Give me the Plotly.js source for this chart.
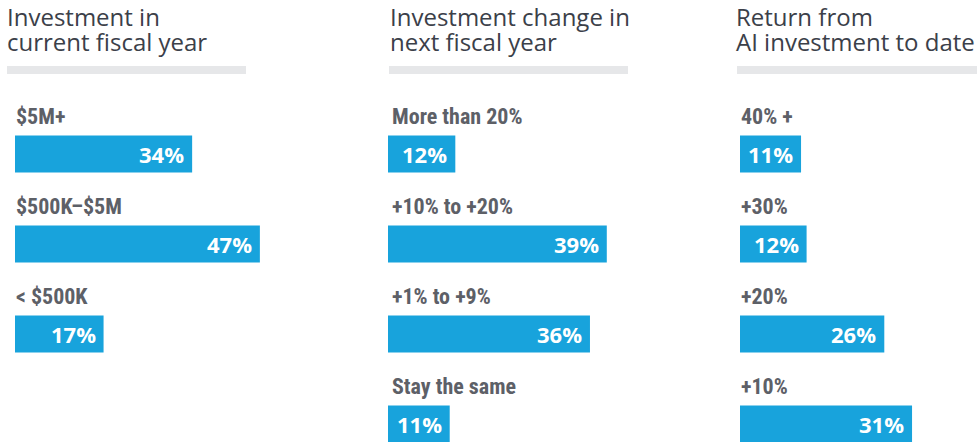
<!DOCTYPE html>
<html>
<head>
<meta charset="utf-8">
<script src="https://cdn.plot.ly/plotly-3.0.1.min.js"></script>
<style>html,body{margin:0;padding:0;background:#fff;}#chart{width:978px;height:442px;}</style>
</head>
<body>
<div id="chart"></div>
<script>
// ---- data ----
const titles1 = ['Investment in', 'current fiscal year'];
const titles2 = ['Investment change in', 'next fiscal year'];
const titles3 = ['Return from', 'AI investment to date'];

const cats1 = ['$5M+', '$500K–$5M', '< $500K'];
const vals1 = [34, 47, 17];

const cats2 = ['More than 20%', '+10% to +20%', '+1% to +9%', 'Stay the same'];
const vals2 = [12, 39, 36, 11];

const cats3 = ['40% +', '+30%', '+20%', '+10%'];
const vals3 = [11, 12, 26, 31];

// ---- layout helpers ----
const W = 978, H = 442;
const px = v => v / W;
const py = v => 1 - v / H;

const BAR = '#18a3dc';
const LABEL = '#5d6067';
const TITLE = '#3b4049';
const RULE = '#e6e7e9';
const labelFont = {family: 'Roboto Condensed, Liberation Sans Narrow, DejaVu Sans Condensed, sans-serif', size: 22, color: LABEL, weight: 700};
const valueFont = {family: 'Open Sans, Noto Sans, sans-serif', size: 22, color: '#ffffff', weight: 700};
const titleFont = {family: 'Open Sans, Noto Sans, sans-serif', size: 24, color: TITLE};

const panels = [
  {cats: cats1, vals: vals1, titles: titles1, xa: 'x', ya: 'y', tx: 6, rule: [7, 246]},
  {cats: cats2, vals: vals2, titles: titles2, xa: 'x2', ya: 'y2', tx: 389, rule: [389, 628]},
  {cats: cats3, vals: vals3, titles: titles3, xa: 'x3', ya: 'y3', tx: 735, rule: [737, 977]}
];

const data = panels.map(p => ({
  type: 'bar', orientation: 'h',
  x: p.vals, y: p.cats,
  xaxis: p.xa, yaxis: p.ya,
  marker: {color: BAR},
  width: 0.41,
  hoverinfo: 'skip'
}));

const annotations = [];
const shapes = [];
panels.forEach((p, k) => {
  p.cats.forEach((c, i) => {
    annotations.push({
      xref: p.xa, yref: p.ya, x: 0, y: c, text: c,
      xanchor: 'left', yanchor: 'middle', yshift: 38, xshift: k === 1 ? 2 : -1,
      showarrow: false, font: labelFont
    });
    annotations.push({
      xref: p.xa, yref: p.ya, x: p.vals[i], y: c, text: p.vals[i] + '%',
      xanchor: 'right', yanchor: 'middle', xshift: -6,
      showarrow: false, font: valueFont
    });
  });
  p.titles.forEach((t, j) => {
    annotations.push({
      xref: 'paper', yref: 'paper', x: px(p.tx), y: py(17 + 24 * j), text: t,
      xanchor: 'left', yanchor: 'middle', borderpad: 0,
      showarrow: false, font: titleFont
    });
  });
  shapes.push({
    type: 'rect', xref: 'paper', yref: 'paper',
    x0: px(p.rule[0]), x1: px(p.rule[1]), y0: py(66), y1: py(74),
    fillcolor: RULE, line: {width: 0}
  });
});

const yRange = [(H - 154) / 90, -154 / 90];
const hiddenX = {showgrid: false, zeroline: false, showticklabels: false, showline: false, fixedrange: true};
const hiddenY = Object.assign({}, hiddenX, {type: 'category', range: yRange, domain: [0, 1]});

const layout = {
  width: W, height: H,
  margin: {l: 0, r: 0, t: 0, b: 0},
  paper_bgcolor: '#ffffff', plot_bgcolor: 'rgba(0,0,0,0)',
  showlegend: false, hovermode: false,
  xaxis: Object.assign({}, hiddenX, {domain: [px(15), px(15 + 5.21 * 50)], range: [0, 50], anchor: 'y'}),
  xaxis2: Object.assign({}, hiddenX, {domain: [px(388), px(388 + 5.61 * 45)], range: [0, 45], anchor: 'y2'}),
  xaxis3: Object.assign({}, hiddenX, {domain: [px(740), 1], range: [0, 238 / 5.55], anchor: 'y3'}),
  yaxis: Object.assign({}, hiddenY, {anchor: 'x', categoryarray: cats1, categoryorder: 'array'}),
  yaxis2: Object.assign({}, hiddenY, {anchor: 'x2', categoryarray: cats2, categoryorder: 'array'}),
  yaxis3: Object.assign({}, hiddenY, {anchor: 'x3', categoryarray: cats3, categoryorder: 'array'}),
  annotations: annotations,
  shapes: shapes
};

Plotly.newPlot('chart', data, layout, {displayModeBar: false, staticPlot: true});
</script>
</body>
</html>
